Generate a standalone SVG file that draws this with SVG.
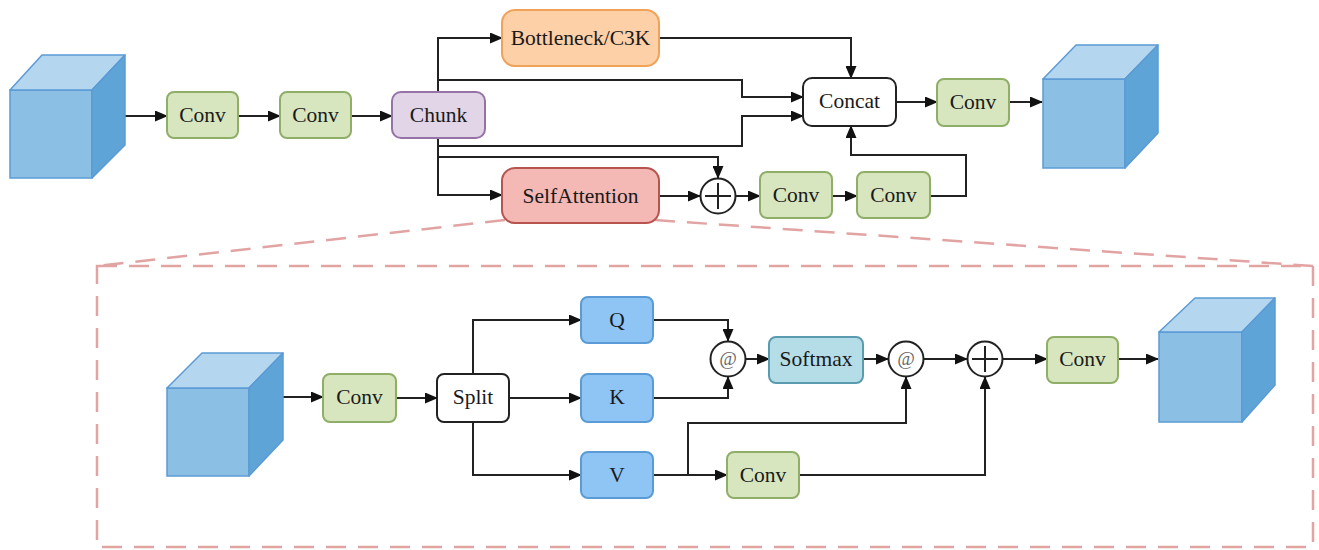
<svg xmlns="http://www.w3.org/2000/svg" width="1319" height="550" viewBox="0 0 1319 550">
<defs>
<style>
.t{font-family:"Liberation Serif","Times New Roman",serif;font-size:21.5px;fill:#1a1a1a;text-anchor:middle;dominant-baseline:central}
.at{font-family:"Liberation Serif","Times New Roman",serif;font-size:19px;font-style:italic;fill:#666;text-anchor:middle;dominant-baseline:central}
.c{stroke:#222;stroke-width:2;fill:none}
.a{marker-end:url(#ah)}
.conv{fill:#d8e6c0;stroke:#8fae67;stroke-width:2}
.wh{fill:#fff;stroke:#222;stroke-width:2}
.qkv{fill:#8fc5f5;stroke:#5b9bd5;stroke-width:2}
.cf{fill:#8bbfe3;stroke:#5b9bd5;stroke-width:1.5}
.ct{fill:#b4d6ef;stroke:#5b9bd5;stroke-width:1.5;stroke-linejoin:round}
.cs{fill:#5fa4d6;stroke:#5b9bd5;stroke-width:1.5;stroke-linejoin:round}
.op{fill:#fff;stroke:#222;stroke-width:2}
.d{stroke:#e2a3a3;stroke-width:2.5;fill:none;stroke-dasharray:20 12}
</style>
<marker id="ah" markerUnits="userSpaceOnUse" markerWidth="13" markerHeight="11" refX="12" refY="5.5" orient="auto">
<path d="M0,0 L13,5.5 L0,11 z" fill="#111"/>
</marker>
</defs>
<rect width="1319" height="550" fill="#fff"/>

<g id="dashed-zoom">
<path class="d" d="M505,220 L97,266"/>
<path class="d" d="M655,220 L1313,266"/>
<rect class="d" x="97" y="266" width="1216" height="281"/>
</g>

<g id="connectors">
<path class="c a" d="M125,116 H167"/>
<path class="c a" d="M238,116 H280"/>
<path class="c a" d="M351,116 H392"/>
<path class="c a" d="M438,92 V38 H502"/>
<path class="c a" d="M438,80 H742 V97 H803"/>
<path class="c a" d="M438,138 V195 H502"/>
<path class="c a" d="M438,146 H742 V116 H803"/>
<path class="c a" d="M438,157 H718 V178"/>
<path class="c a" d="M659,38 H851 V78"/>
<path class="c a" d="M659,196 H700"/>
<path class="c a" d="M736,196 H760"/>
<path class="c a" d="M832,196 H857"/>
<path class="c a" d="M930,196 H966 V155 H851 V126"/>
<path class="c a" d="M896,102 H937"/>
<path class="c a" d="M1009,102 H1042"/>

<path class="c a" d="M283,397 H323"/>
<path class="c a" d="M396,398 H437"/>
<path class="c a" d="M473,374 V320 H581"/>
<path class="c a" d="M509,398 H581"/>
<path class="c a" d="M473,422 V475 H581"/>
<path class="c a" d="M653,320 H728 V341"/>
<path class="c a" d="M653,398 H728 V377"/>
<path class="c a" d="M746,359 H769"/>
<path class="c a" d="M863,359 H888"/>
<path class="c a" d="M653,475 H727"/>
<path class="c a" d="M688,475 V423 H906 V377"/>
<path class="c a" d="M799,475 H985 V377"/>
<path class="c a" d="M924,359 H967"/>
<path class="c a" d="M1003,359 H1047"/>
<path class="c a" d="M1118,359 H1158"/>
</g>

<g id="cube-in">
<rect class="cf" x="10" y="90" width="82" height="88"/>
<polygon class="ct" points="10,90 42,55 125,55 92,90"/>
<polygon class="cs" points="92,90 125,55 125,145 92,178"/>
</g>
<g id="conv1"><rect class="conv" x="167" y="92" width="71" height="46" rx="7"/><text class="t" x="202.5" y="115">Conv</text></g>
<g id="conv2"><rect class="conv" x="280" y="92" width="71" height="46" rx="7"/><text class="t" x="315.5" y="115">Conv</text></g>
<g id="chunk"><rect x="392" y="92" width="93" height="46" rx="9" fill="#e1d5e7" stroke="#9673a6" stroke-width="2"/><text class="t" x="438.5" y="115">Chunk</text></g>
<g id="bottleneck"><rect x="502" y="10" width="157" height="56" rx="13" fill="#fdd0a8" stroke="#f0a258" stroke-width="2"/><text class="t" x="580.5" y="38">Bottleneck/C3K</text></g>
<g id="selfattention"><rect x="502" y="168" width="157" height="55" rx="13" fill="#f4b8b5" stroke="#b85450" stroke-width="2"/><text class="t" x="580.5" y="195.5">SelfAttention</text></g>
<g id="add-top"><circle class="op" cx="718" cy="196" r="17.5"/><path class="c" d="M705,196 H731 M718,183 V209" stroke-width="1.5"/></g>
<g id="conv3"><rect class="conv" x="760" y="172" width="72" height="46" rx="7"/><text class="t" x="796" y="195">Conv</text></g>
<g id="conv4"><rect class="conv" x="857" y="172" width="73" height="46" rx="7"/><text class="t" x="893.5" y="195">Conv</text></g>
<g id="concat"><rect class="wh" x="803" y="78" width="93" height="48" rx="9"/><text class="t" x="849.5" y="101">Concat</text></g>
<g id="conv5"><rect class="conv" x="937" y="79" width="72" height="47" rx="7"/><text class="t" x="973" y="102">Conv</text></g>
<g id="cube-out">
<rect class="cf" x="1043" y="79" width="82" height="89"/>
<polygon class="ct" points="1043,79 1076,45 1158,45 1125,79"/>
<polygon class="cs" points="1125,79 1158,45 1158,133 1125,168"/>
</g>

<g id="cube-sa-in">
<rect class="cf" x="167" y="388" width="82" height="88"/>
<polygon class="ct" points="167,388 202,353 283,353 249,388"/>
<polygon class="cs" points="249,388 283,353 283,440 249,476"/>
</g>
<g id="conv6"><rect class="conv" x="323" y="374" width="73" height="48" rx="7"/><text class="t" x="359.5" y="397">Conv</text></g>
<g id="split"><rect class="wh" x="437" y="374" width="72" height="48" rx="7"/><text class="t" x="473" y="397">Split</text></g>
<g id="q"><rect class="qkv" x="581" y="297" width="72" height="46" rx="7"/><text class="t" x="617" y="320">Q</text></g>
<g id="k"><rect class="qkv" x="581" y="374" width="72" height="48" rx="7"/><text class="t" x="617" y="397">K</text></g>
<g id="v"><rect class="qkv" x="581" y="452" width="72" height="46" rx="7"/><text class="t" x="617" y="475">V</text></g>
<g id="matmul1"><circle class="op" cx="728" cy="359" r="17.5"/><text class="at" x="728" y="358">@</text></g>
<g id="softmax"><rect x="769" y="337" width="94" height="46" rx="7" fill="#b5dde8" stroke="#5b9bb0" stroke-width="2"/><text class="t" x="816" y="359">Softmax</text></g>
<g id="matmul2"><circle class="op" cx="906" cy="359" r="17.5"/><text class="at" x="906" y="358">@</text></g>
<g id="conv7"><rect class="conv" x="727" y="452" width="72" height="46" rx="7"/><text class="t" x="763" y="475">Conv</text></g>
<g id="add-bottom"><circle class="op" cx="985" cy="359" r="17.5"/><path class="c" d="M972,359 H998 M985,346 V372" stroke-width="1.5"/></g>
<g id="conv8"><rect class="conv" x="1047" y="337" width="71" height="46" rx="7"/><text class="t" x="1082.5" y="359">Conv</text></g>
<g id="cube-sa-out">
<rect class="cf" x="1159" y="332" width="83" height="90"/>
<polygon class="ct" points="1159,332 1195,298 1275,298 1242,332"/>
<polygon class="cs" points="1242,332 1275,298 1275,385 1242,422"/>
</g>
</svg>
